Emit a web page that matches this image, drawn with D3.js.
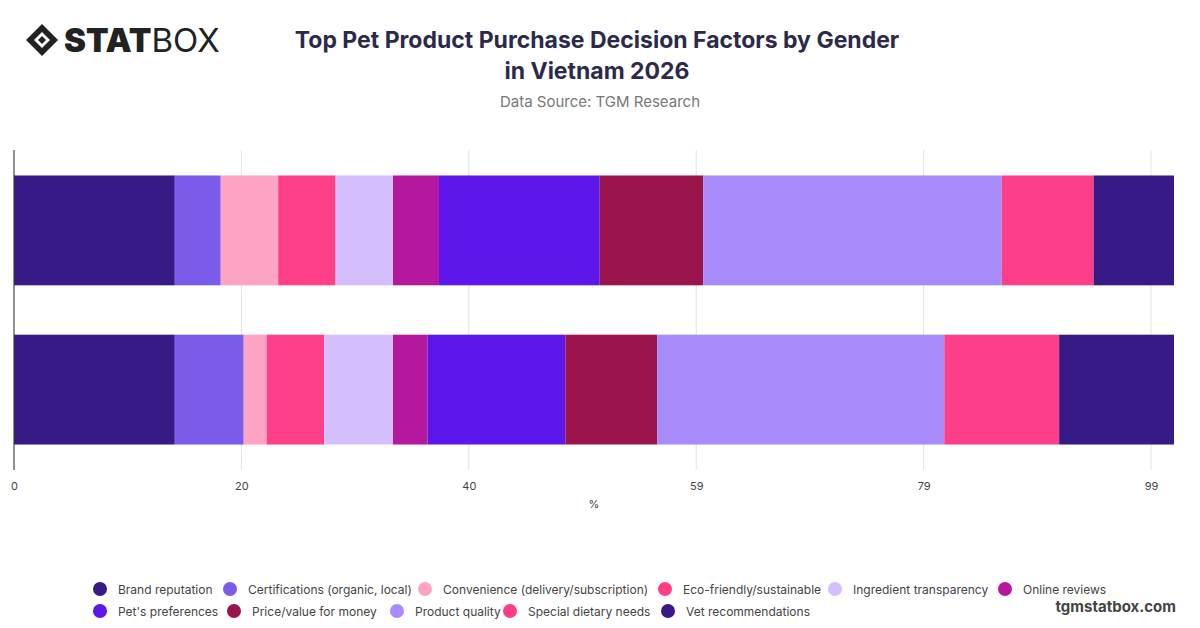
<!DOCTYPE html>
<html lang="en">
<head>
<meta charset="UTF-8">
<title>Pet Product Purchase Factors</title>
<style>
  body { margin: 0; background: #fff; font-family: "Inter", "Roboto", sans-serif; }
</style>
</head>
<body>
<script src="https://cdn.jsdelivr.net/npm/d3@7"></script>
<script>
    let width = 1200;
    let height = 628;

    let groups = ["Female", "Male"];
    let factors = ["Brand reputation", "Certifications (organic, local)", "Convenience (delivery/subscription)",
        "Eco-friendly/sustainable", "Ingredient transparency", "Online reviews", "Pet's preferences",
        "Price/value for money", "Product quality", "Special dietary needs", "Vet recommendations"];
    let femaleValues = [14, 4, 5, 5, 5, 4, 14, 9, 26, 8, 7];
    let maleValues = [14, 6, 2, 5, 6, 3, 12, 8, 25, 10, 10];
    let tickValues = [0, 19.8, 39.6, 59.4, 79.2, 99];
    let colors = ["#371a85", "#7b5cea", "#fda4c5", "#ff4088", "#d4bffc", "#b5179e",
        "#5e17eb", "#9b154c", "#a78bfa", "#ff3e8a", "#371a85"];

    let svg = d3.select("body").append("svg")
        .attr("width", width)
        .attr("height", height);

    // logo
    let logo = svg.append("g").attr("transform", "translate(26,40)");
    logo.append("path").attr("d", "M0,0 L16,-16 L32,0 L16,16 Z").attr("fill", "#222");
    logo.append("path").attr("d", "M8,0 L16,-8 L24,0 L16,8 Z").attr("fill", "#fff");
    logo.append("path").attr("d", "M12,0 L16,-4 L20,0 L16,4 Z").attr("fill", "#222");
    logo.append("text").attr("x", 38).attr("y", 12).attr("font-size", 33)
        .attr("font-family", "Inter, sans-serif").attr("fill", "#222")
        .html('<tspan font-weight="900">STAT</tspan><tspan font-weight="400">BOX</tspan>');

    svg.append("text").attr("x", 597).attr("y", 48).attr("text-anchor", "middle")
        .attr("font-size", 23).attr("font-weight", 700).attr("fill", "#2c2a4a")
        .text("Top Pet Product Purchase Decision Factors by Gender");
    svg.append("text").attr("x", 597).attr("y", 79).attr("text-anchor", "middle")
        .attr("font-size", 23).attr("font-weight", 700).attr("fill", "#2c2a4a")
        .text("in Vietnam 2026");
    svg.append("text").attr("x", 600).attr("y", 107).attr("text-anchor", "middle")
        .attr("font-size", 15).attr("fill", "#777")
        .text("Data Source: TGM Research");

    let plotLeft = 14, plotRight = 1174, plotTop = 150, plotBottom = 470;
    let total = d3.sum(femaleValues);
    let x = d3.scaleLinear().domain([0, total]).range([plotLeft, plotRight]);
    let y = d3.scaleBand().domain(groups).range([plotTop, plotBottom]).paddingInner(0.31).paddingOuter(0.16);

    svg.append("g").selectAll("line").data(tickValues).enter().append("line")
        .attr("x1", d => x(d)).attr("x2", d => x(d))
        .attr("y1", plotTop).attr("y2", plotBottom)
        .attr("stroke", "#e2e2e2");

    let series = [femaleValues, maleValues];
    series.forEach((vals, gi) => {
        let acc = 0;
        let segs = vals.map((v, i) => { let s = {x0: acc, x1: acc + v, i: i}; acc += v; return s; });
        svg.append("g").selectAll("rect").data(segs).enter().append("rect")
            .attr("x", d => x(d.x0))
            .attr("width", d => x(d.x1) - x(d.x0))
            .attr("y", y(groups[gi]))
            .attr("height", y.bandwidth())
            .attr("fill", d => colors[d.i]);
    });

    svg.append("line").attr("x1", plotLeft).attr("x2", plotLeft).attr("y1", plotTop).attr("y2", plotBottom)
        .attr("stroke", "#333");

    let axis = svg.append("g").attr("transform", "translate(0," + plotBottom + ")")
        .call(d3.axisBottom(x).tickValues(tickValues).tickFormat(d3.format(".0f")).tickSize(0).tickPadding(12));
    axis.select(".domain").remove();
    axis.selectAll("text").attr("font-size", 11).attr("fill", "#444").attr("font-family", "Inter, sans-serif");

    svg.append("text").attr("x", 594).attr("y", 508).attr("text-anchor", "middle")
        .attr("font-size", 11).attr("fill", "#444").text("%");

    // legend (circle centre positions)
    let rows = [factors.slice(0, 6), factors.slice(6)];
    let rowY = [589, 611];
    let rowX = [[100, 230, 425, 665, 835, 1005], [100, 234, 397, 510, 668]];
    rows.forEach((row, r) => {
        row.forEach((name, j) => {
            let idx = r * 6 + j;
            let g = svg.append("g").attr("transform", "translate(" + rowX[r][j] + "," + rowY[r] + ")");
            g.append("circle").attr("cx", 0).attr("cy", 0).attr("r", 7).attr("fill", colors[idx]);
            g.append("text").attr("x", 18).attr("y", 4.5).attr("font-size", 12)
                .attr("fill", "#444").text(name);
        });
    });

    svg.append("text").attr("x", 1176).attr("y", 612).attr("text-anchor", "end")
        .attr("font-size", 15).attr("font-weight", 700).attr("fill", "#444").text("tgmstatbox.com");
</script>
</body>
</html>
